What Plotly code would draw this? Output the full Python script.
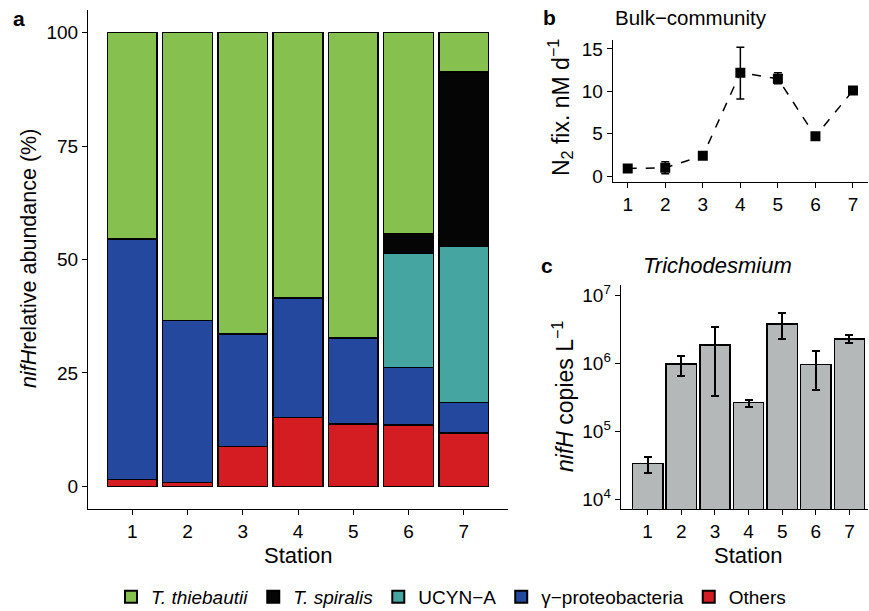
import plotly.graph_objects as go

stations = [1, 2, 3, 4, 5, 6, 7]
# Panel a: nifH relative abundance (%)
others = [1.5, 0.8, 8.8, 15.2, 13.7, 13.5, 11.8]
gamma = [53.0, 35.8, 24.8, 26.3, 19.0, 12.7, 6.7]
ucyn_a = [0, 0, 0, 0, 0, 25.1, 34.4]
t_spiralis = [0, 0, 0, 0, 0, 4.4, 38.4]
t_thiebautii = [45.5, 63.4, 66.4, 58.5, 67.3, 44.3, 8.7]

# Panel b: bulk N2 fixation (nM d-1)
n2_fix = [0.9, 1.0, 2.4, 12.2, 11.5, 4.7, 10.1]
n2_err_hi = [0.0, 0.7, 0.0, 3.0, 0.7, 0.0, 0.0]
n2_err_lo = [0.0, 0.7, 0.0, 3.1, 0.6, 0.0, 0.0]

# Panel c: Trichodesmium nifH copies L-1
tri_copies = [3.33e4, 9.7e5, 1.86e6, 2.62e5, 3.8e6, 9.6e5, 2.26e6]
tri_upper = [4.2e4, 1.29e6, 3.36e6, 2.87e5, 5.45e6, 1.52e6, 2.56e6]
tri_lower = [2.4e4, 6.45e5, 3.29e5, 2.29e5, 2.23e6, 3.98e5, 1.95e6]

c_thieb = "#86C04E"
c_spir = "#050505"
c_ucyn = "#45A5A0"
c_gamma = "#23489D"
c_others = "#D41C23"
c_gray = "#B5B8B8"

FONT = "Liberation Sans, Arial, Helvetica, sans-serif"
W, H = 869, 611

def px(xp):
    return xp / W

def py(yp):
    return 1 - yp / H

fig = go.Figure()

# Panel a stacked bars
for name, vals, col in [("Others", others, c_others),
                        ("γ−proteobacteria", gamma, c_gamma),
                        ("UCYN−A", ucyn_a, c_ucyn),
                        ("T. spiralis", t_spiralis, c_spir),
                        ("T. thiebautii", t_thiebautii, c_thieb)]:
    fig.add_trace(go.Bar(x=stations, y=vals, name=name, width=0.9,
                         marker=dict(color=col, line=dict(color="black", width=1.5)),
                         showlegend=False, xaxis="x", yaxis="y"))

# Legend proxies
for name, col in [("<i>T. thiebautii</i>", c_thieb), ("<i>T. spiralis</i>", c_spir),
                  ("UCYN−A", c_ucyn), ("γ−proteobacteria", c_gamma), ("Others", c_others)]:
    fig.add_trace(go.Scatter(x=[None], y=[None], mode="markers", name=name,
                             marker=dict(symbol="square", size=16, color=col,
                                         line=dict(color="black", width=1)),
                             xaxis="x", yaxis="y", showlegend=True))

# Panel b
fig.add_trace(go.Scatter(x=stations, y=n2_fix, mode="lines+markers",
                         line=dict(color="black", width=1.5, dash="dash"),
                         marker=dict(symbol="square", size=10, color="black"),
                         error_y=dict(type="data", array=n2_err_hi, arrayminus=n2_err_lo,
                                      color="black", thickness=1.5, width=4),
                         showlegend=False, xaxis="x2", yaxis="y2"))

# Panel c
fig.add_trace(go.Bar(x=stations, y=tri_copies, width=0.9,
                     marker=dict(color=c_gray, line=dict(color="black", width=1.5)),
                     error_y=dict(type="data",
                                  array=[u - v for u, v in zip(tri_upper, tri_copies)],
                                  arrayminus=[v - l for v, l in zip(tri_copies, tri_lower)],
                                  color="black", thickness=2, width=4),
                     showlegend=False, xaxis="x3", yaxis="y3"))

axis_common = dict(showline=True, linecolor="black", linewidth=1.2, ticks="outside",
                   ticklen=5, tickwidth=1, tickcolor="black", showgrid=False, zeroline=False,
                   automargin=False,
                   tickfont=dict(family=FONT, size=19, color="black"))

fig.update_layout(
    width=W, height=H, margin=dict(l=0, r=0, t=0, b=0, autoexpand=False),
    plot_bgcolor="white", paper_bgcolor="white", barmode="stack",
    font=dict(family=FONT, color="black"),
    xaxis=dict(domain=[px(88), px(508)], range=[0.2, 7.8], tickvals=stations, anchor="y", **axis_common),
    yaxis=dict(domain=[py(509), py(10)], range=[-5, 105], tickvals=[0, 25, 50, 75, 100], anchor="x", **axis_common),
    xaxis2=dict(domain=[px(612.7), px(868)], range=[0.6, 7.4], tickvals=stations, anchor="y2", **axis_common),
    yaxis2=dict(domain=[py(181.7), py(40)], range=[-0.65, 16.06], tickvals=[0, 5, 10, 15], anchor="x2", **axis_common),
    xaxis3=dict(domain=[px(620.7), px(868)], range=[0.2, 7.55], tickvals=stations, anchor="y3", **axis_common),
    yaxis3=dict(domain=[py(509.3), py(285)], type="log", range=[3.85, 7.15],
                tickvals=[1e4, 1e5, 1e6, 1e7],
                ticktext=["10<sup>4</sup>", "10<sup>5</sup>", "10<sup>6</sup>", "10<sup>7</sup>"],
                anchor="x3", **axis_common),
    legend=dict(orientation="h", x=px(451), xanchor="center", y=py(597), yanchor="middle",
                traceorder="normal",
                font=dict(family=FONT, size=19, color="black"), itemsizing="constant",
                bgcolor="rgba(0,0,0,0)"),
)

ann = []
def add_text(text, x, y, size=20, angle=0, xanchor="center", bold=False):
    ann.append(dict(text=f"<b>{text}</b>" if bold else text, x=px(x), y=py(y),
                    xref="paper", yref="paper", showarrow=False, textangle=angle,
                    xanchor=xanchor, yanchor="middle",
                    font=dict(family=FONT, size=size, color="black")))

add_text("a", 19, 19, size=21, bold=True)
add_text("b", 549, 17, size=21, bold=True)
add_text("c", 547, 265, size=21, bold=True)
add_text("Bulk−community", 613, 17, size=20.5, xanchor="left")
add_text("<i>Trichodesmium</i>", 717, 265, size=22)
add_text("<i>nifH</i>relative abundance (%)", 29, 259, size=21.5, angle=-90)
add_text("N<sub>2</sub> fix. nM d<sup>−1</sup>", 560, 108, size=23, angle=-90)
add_text("<i>nifH</i> copies L<sup>−1</sup>", 563, 397, size=23, angle=-90)
add_text("Station", 298, 555, size=22)
add_text("Station", 748, 555, size=22)
fig.update_layout(annotations=ann)

fig.write_html("out.html", config={"displayModeBar": False},
               post_script="document.body.style.margin='0';document.body.style.overflow='hidden';")
